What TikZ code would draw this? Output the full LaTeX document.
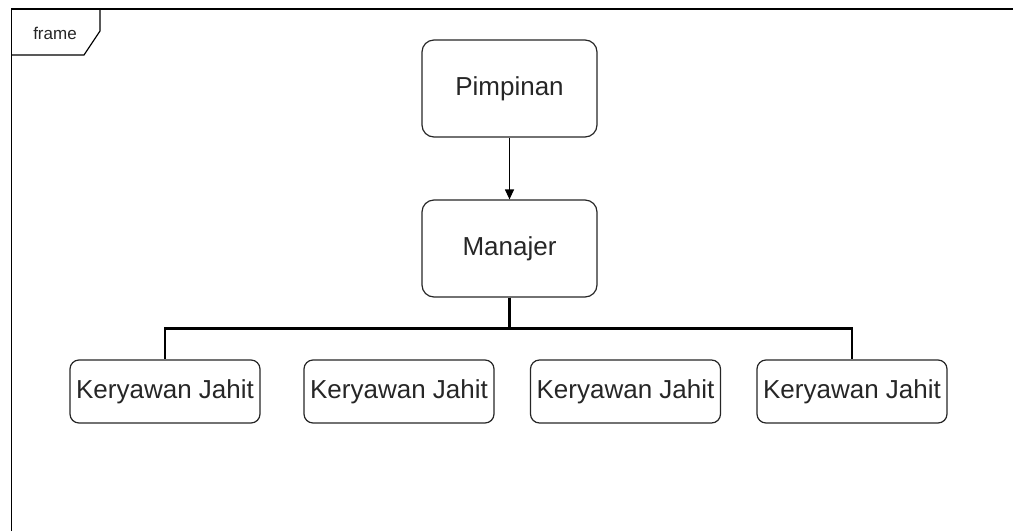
\documentclass[tikz,border=0pt]{standalone}
\usepackage{fontspec}
\setmainfont{Liberation Sans}
\usetikzlibrary{arrows.meta}

\begin{document}
\begin{tikzpicture}[x=1pt, y=-1pt,
    box/.style={draw=black!85, line width=1.2pt, rectangle, rounded corners=12pt, minimum width=175pt, minimum height=97pt, align=center, text=black!85, font=\fontsize{26}{31}\selectfont},
    staff/.style={box, rounded corners=9pt, minimum width=190pt, minimum height=63pt, inner sep=0pt},
    flow/.style={-{Triangle[length=10pt,width=9pt]}, line width=1.2pt},
    link/.style={line width=2.4pt}]
    \useasboundingbox (0,0) rectangle (1013,531);

    % Frame with its label
    \draw[line width=1.2pt] (11.5,531) -- (11.5,9) -- (1013,9);
    \draw[line width=1.2pt] (11.5,55) -- (84,55) -- (100,31) -- (100,9);
    \node[font=\fontsize{17}{20}\selectfont, text=black!85] (framelabel) at (55,33) {frame};

    % Define the boxes
    \node[box] (pimpinan) at (509.5,88.5) {Pimpinan};
    \node[box] (manajer) at (509.5,248.5) {Manajer};
    \node[staff] (kj1) at (165,391.5) {Keryawan Jahit};
    \node[staff] (kj2) at (399,391.5) {Keryawan Jahit};
    \node[staff] (kj3) at (625.5,391.5) {Keryawan Jahit};
    \node[staff] (kj4) at (852,391.5) {Keryawan Jahit};

    % Connect the boxes
    \draw[flow] (pimpinan) -- (manajer);
    \draw[link] (manajer.south) -- ++(0,31) -| (kj1.north);
    \draw[link] (manajer.south) -- ++(0,31) -| (kj4.north);
\end{tikzpicture}
\end{document}
